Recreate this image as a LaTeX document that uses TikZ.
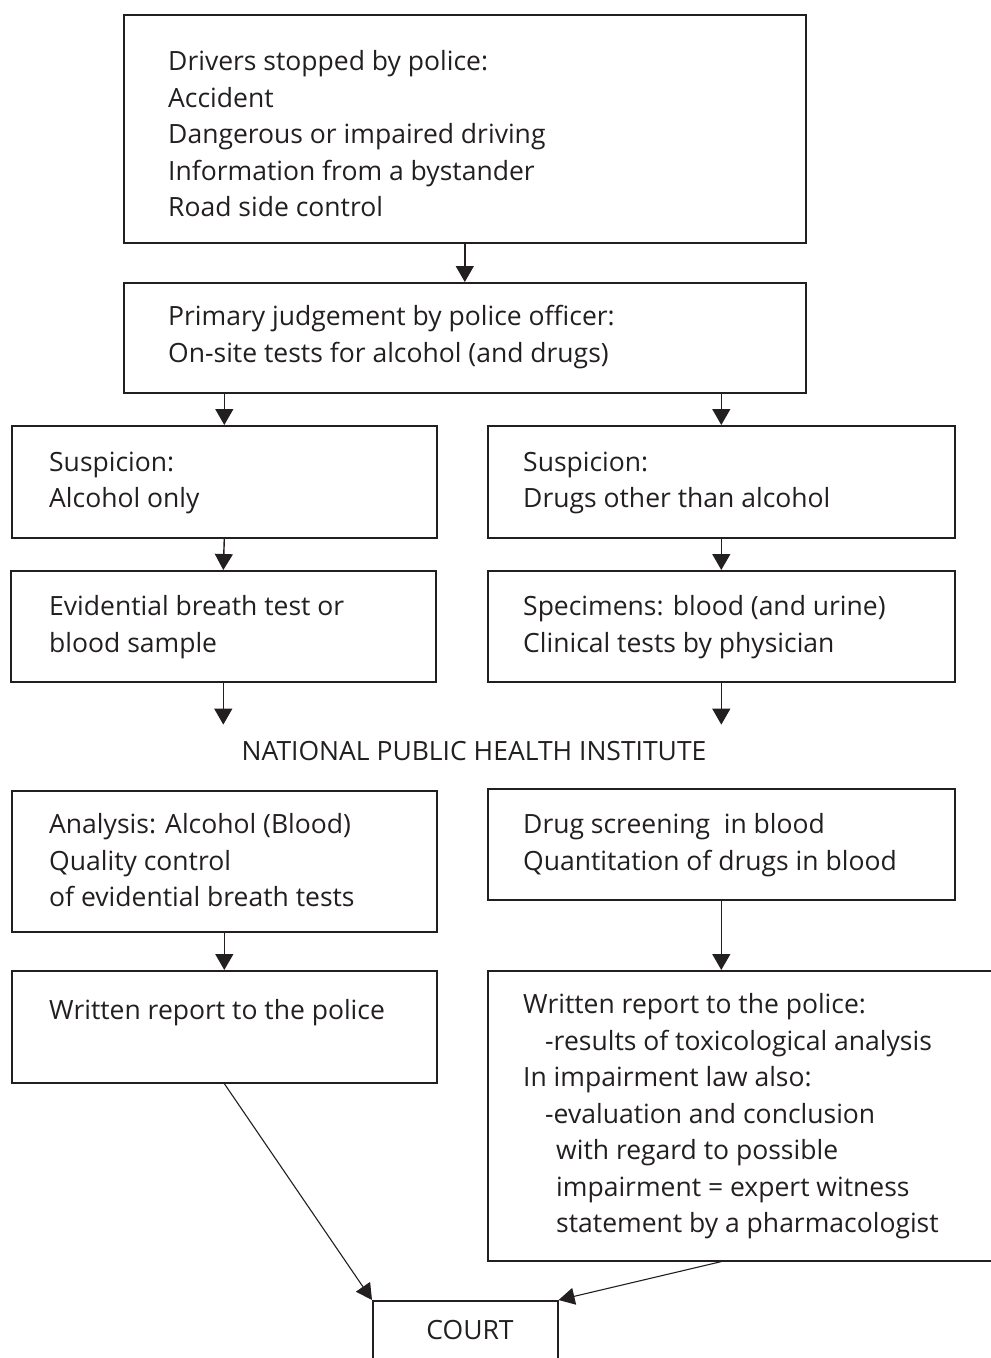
\documentclass[tikz,border=0pt]{standalone}
\usepackage{fontspec}
\setmainfont{Open Sans}
\usetikzlibrary{arrows.meta}
\definecolor{ink}{HTML}{231F20}
\begin{document}
\begin{tikzpicture}[x=1pt,y=-1pt,
  box/.style={draw=ink, line width=1.6pt, inner sep=0pt, anchor=north west},
  txt/.style={text=ink, font=\fontsize{26.5}{36.5}\selectfont, align=left, inner sep=0pt,
    anchor=north west, yshift=18.5pt, execute at begin node=\strut},
  lbl/.style={text=ink, font=\fontsize{26.5}{36.5}\selectfont, inner sep=0pt, anchor=base},
  arr/.style={draw=ink, line width=1.4pt, -{Triangle[length=16pt,width=18pt]}},
  slim/.style={draw=ink, line width=1.1pt, -{Triangle[length=16pt,width=17pt]}}]
\useasboundingbox (0,0) rectangle (991,1358);
% boxes
\node[box, minimum width=682pt, minimum height=228pt] (b1) at (123,14) {};
\node[box, minimum width=682pt, minimum height=110pt] (b2) at (123,282) {};
\node[box, minimum width=425pt, minimum height=112pt] (b3l) at (11,425) {};
\node[box, minimum width=467pt, minimum height=112pt] (b3r) at (487,425) {};
\node[box, minimum width=425pt, minimum height=111pt] (b4l) at (10,570) {};
\node[box, minimum width=467pt, minimum height=111pt] (b4r) at (487,570) {};
\node[box, minimum width=425pt, minimum height=141pt] (b5l) at (11,790) {};
\node[box, minimum width=467pt, minimum height=111pt] (b5r) at (487,788) {};
\node[box, minimum width=425pt, minimum height=112pt] (b6l) at (11,970) {};
\node[box, minimum width=520pt, minimum height=290pt] (b6r) at (487,970) {};
\node[box, minimum width=185pt, minimum height=80pt] (court) at (372,1300) {};
% texts
\node[txt] (t1) at (168,69) {Drivers stopped by police:\\Accident\\Dangerous or impaired driving\\Information from a bystander\\Road side control};
\node[txt] (t2) at (168,324) {Primary judgement by police officer:\\On-site tests for alcohol (and drugs)};
\node[txt] (t3l) at (49,470) {Suspicion:\\Alcohol only};
\node[txt] (t3r) at (523,470) {Suspicion:\\Drugs other than alcohol};
\node[txt] (t4l) at (49,614) {Evidential breath test or\\blood sample};
\node[txt] (t4r) at (523,614) {Specimens: blood (and urine)\\Clinical tests by physician};
\node[lbl] (nat) at (474,760) {NATIONAL PUBLIC HEALTH INSTITUTE};
\node[txt] (t5l) at (49,832) {Analysis: Alcohol (Blood)\\Quality control\\of evidential breath tests};
\node[txt] (t5r) at (523,832) {Drug screening~ in blood\\Quantitation of drugs in blood};
\node[txt] (t6l) at (49,1012) {Written report to the police};
\node[txt] (t6r) at (523,1012) {Written report to the police:\\\hspace*{22pt}-results of toxicological analysis\\In impairment law also:\\\hspace*{22pt}-evaluation and conclusion\\\hspace*{33pt}with regard to possible\\\hspace*{33pt}impairment = expert witness\\\hspace*{33pt}statement by a pharmacologist};
\node[lbl] (tc) at (470,1339) {COURT};
% connectors
\draw[arr] (b1.south) -- (b2.north);
\draw[arr] (b2.south -| b3l.north) -- (b3l.north);
\draw[arr] (b2.south -| b3r.north) -- (b3r.north);
\draw[arr] (b3l.south) -- (b4l.north);
\draw[arr] (b3r.south) -- (b4r.north);
\path (b4l.south) ++(0,42) coordinate (e1);
\path (b4r.south) ++(0,42) coordinate (e2);
\draw[arr] (b4l.south) -- (e1);
\draw[arr] (b4r.south) -- (e2);
\draw[arr] (b5l.south) -- (b6l.north);
\draw[arr] (b5r.south) -- (b5r.south |- b6r.north);
\draw[slim] (b6l.south) -- (court.north west);
\draw[slim] (b6r.south -| b5r.south) -- (court.north east);
\end{tikzpicture}
\end{document}
